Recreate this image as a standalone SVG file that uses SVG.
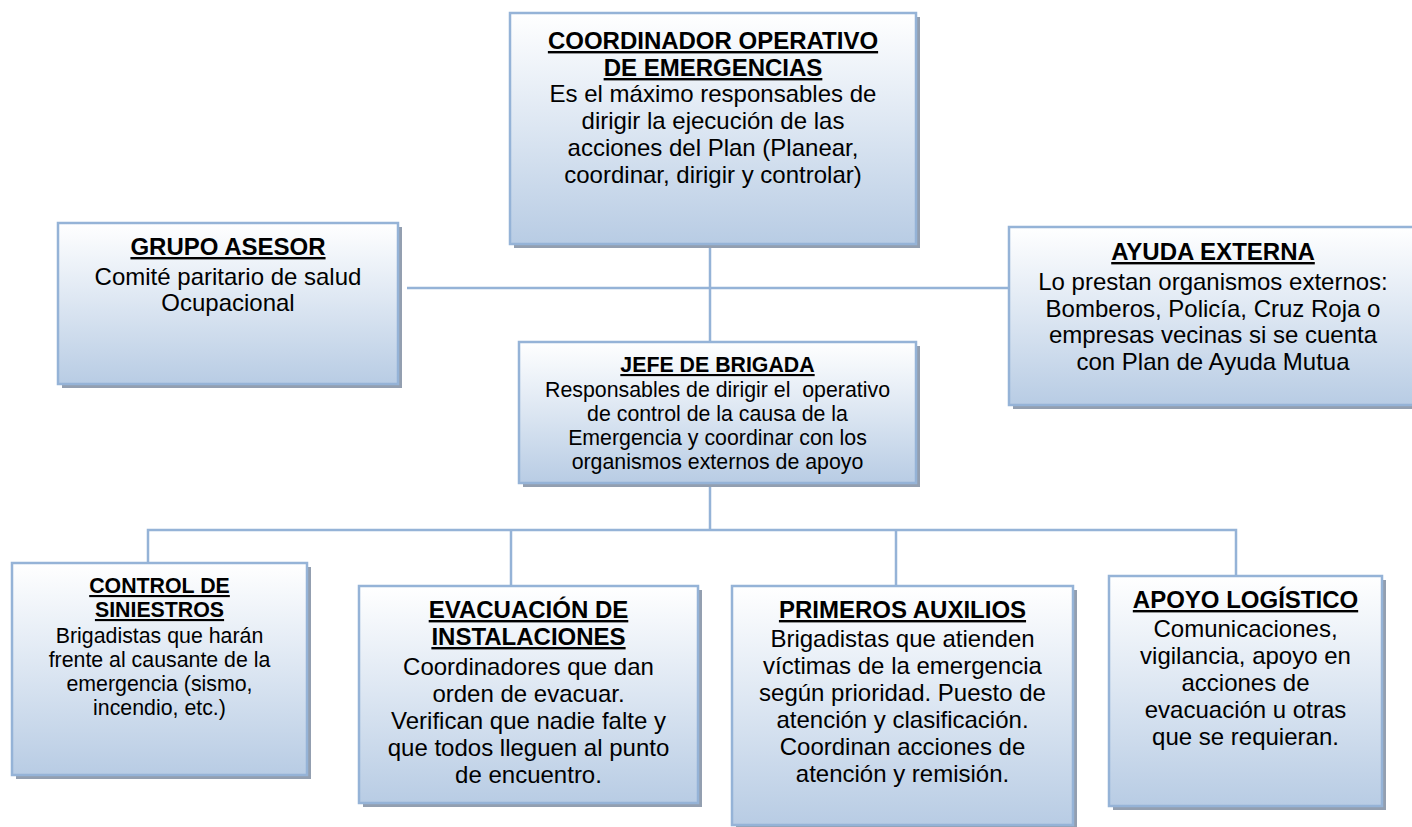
<svg xmlns="http://www.w3.org/2000/svg" width="1412" height="827" viewBox="0 0 1412 827">
<defs>
<linearGradient id="g" x1="0" y1="0" x2="0" y2="1">
<stop offset="0" stop-color="#ffffff"/>
<stop offset="0.5" stop-color="#dce6f2"/>
<stop offset="1" stop-color="#b8cce4"/>
</linearGradient>
</defs>
<style>
.sh{fill:#939fb0}
.bx{fill:url(#g);stroke:#95b3d7;stroke-width:2.5}
.t{font-family:"Liberation Sans",Arial,sans-serif;fill:#000;text-anchor:middle}
.h{font-weight:bold;text-decoration:underline}
.s24{font-size:24px}
.s21{font-size:21.33px}
.cn{fill:none;stroke:#95b3d7;stroke-width:2.5}
</style>
<rect width="1412" height="827" fill="#ffffff"/>
<g id="connectors">
<line class="cn" x1="407" y1="288" x2="1009" y2="288"/>
<line class="cn" x1="710" y1="244" x2="710" y2="342"/>
<line class="cn" x1="710" y1="483" x2="710" y2="530"/>
<polyline class="cn" points="148,563 148,530 1236,530 1236,576"/>
<line class="cn" x1="511" y1="530" x2="511" y2="586"/>
<line class="cn" x1="896" y1="530" x2="896" y2="586"/>
</g>
<g id="coordinador">
<rect class="sh" x="514" y="17" width="406" height="231"/>
<rect class="bx" x="510" y="13" width="406" height="231"/>
<text class="t s24"><tspan class="h" x="713" y="49">COORDINADOR OPERATIVO</tspan><tspan class="h" x="713" y="76">DE EMERGENCIAS</tspan><tspan x="713" y="102">Es el máximo responsables de</tspan><tspan x="713" y="129">dirigir la ejecución de las</tspan><tspan x="713" y="156">acciones del Plan (Planear,</tspan><tspan x="713" y="183">coordinar, dirigir y controlar)</tspan></text>
</g>
<g id="grupo-asesor">
<rect class="sh" x="62" y="227" width="340" height="161"/>
<rect class="bx" x="58" y="223" width="340" height="161"/>
<text class="t s24"><tspan class="h" x="228" y="255">GRUPO ASESOR</tspan><tspan x="228" y="285">Comité paritario de salud</tspan><tspan x="228" y="311">Ocupacional</tspan></text>
</g>
<g id="ayuda-externa">
<rect class="sh" x="1013" y="231" width="410" height="178"/>
<rect class="bx" x="1009" y="227" width="410" height="178"/>
<text class="t s24"><tspan class="h" x="1213" y="260">AYUDA EXTERNA</tspan><tspan x="1213" y="290">Lo prestan organismos externos:</tspan><tspan x="1213" y="317">Bomberos, Policía, Cruz Roja o</tspan><tspan x="1213" y="343">empresas vecinas si se cuenta</tspan><tspan x="1213" y="370">con Plan de Ayuda Mutua</tspan></text>
</g>
<g id="jefe-brigada">
<rect class="sh" x="523" y="346" width="397" height="141"/>
<rect class="bx" x="519" y="342" width="397" height="141"/>
<text class="t s21"><tspan class="h" x="717.5" y="372">JEFE DE BRIGADA</tspan><tspan x="717.5" y="397" xml:space="preserve">Responsables de dirigir el  operativo</tspan><tspan x="717.5" y="421">de control de la causa de la</tspan><tspan x="717.5" y="445">Emergencia y coordinar con los</tspan><tspan x="717.5" y="469">organismos externos de apoyo</tspan></text>
</g>
<g id="control-siniestros">
<rect class="sh" x="16" y="567" width="295" height="212"/>
<rect class="bx" x="12" y="563" width="295" height="212"/>
<text class="t s21"><tspan class="h" x="159.5" y="593">CONTROL DE</tspan><tspan class="h" x="159.5" y="617">SINIESTROS</tspan><tspan x="159.5" y="643">Brigadistas que harán</tspan><tspan x="159.5" y="667">frente al causante de la</tspan><tspan x="159.5" y="691">emergencia (sismo,</tspan><tspan x="159.5" y="715">incendio, etc.)</tspan></text>
</g>
<g id="evacuacion">
<rect class="sh" x="363" y="590" width="339" height="217"/>
<rect class="bx" x="359" y="586" width="339" height="217"/>
<text class="t s24"><tspan class="h" x="528.5" y="618">EVACUACIÓN DE</tspan><tspan class="h" x="528.5" y="645">INSTALACIONES</tspan><tspan x="528.5" y="675">Coordinadores que dan</tspan><tspan x="528.5" y="702">orden de evacuar.</tspan><tspan x="528.5" y="729">Verifican que nadie falte y</tspan><tspan x="528.5" y="756">que todos lleguen al punto</tspan><tspan x="528.5" y="783">de encuentro.</tspan></text>
</g>
<g id="primeros-auxilios">
<rect class="sh" x="736" y="590" width="341" height="239"/>
<rect class="bx" x="732" y="586" width="341" height="239"/>
<text class="t s24"><tspan class="h" x="902.5" y="618">PRIMEROS AUXILIOS</tspan><tspan x="902.5" y="647">Brigadistas que atienden</tspan><tspan x="902.5" y="674">víctimas de la emergencia</tspan><tspan x="902.5" y="701">según prioridad. Puesto de</tspan><tspan x="902.5" y="728">atención y clasificación.</tspan><tspan x="902.5" y="755">Coordinan acciones de</tspan><tspan x="902.5" y="782">atención y remisión.</tspan></text>
</g>
<g id="apoyo-logistico">
<rect class="sh" x="1113" y="580" width="273" height="230"/>
<rect class="bx" x="1109" y="576" width="273" height="230"/>
<text class="t s24"><tspan class="h" x="1245.5" y="608">APOYO LOGÍSTICO</tspan><tspan x="1245.5" y="637">Comunicaciones,</tspan><tspan x="1245.5" y="664">vigilancia, apoyo en</tspan><tspan x="1245.5" y="691">acciones de</tspan><tspan x="1245.5" y="718">evacuación u otras</tspan><tspan x="1245.5" y="745">que se requieran.</tspan></text>
</g>
</svg>
